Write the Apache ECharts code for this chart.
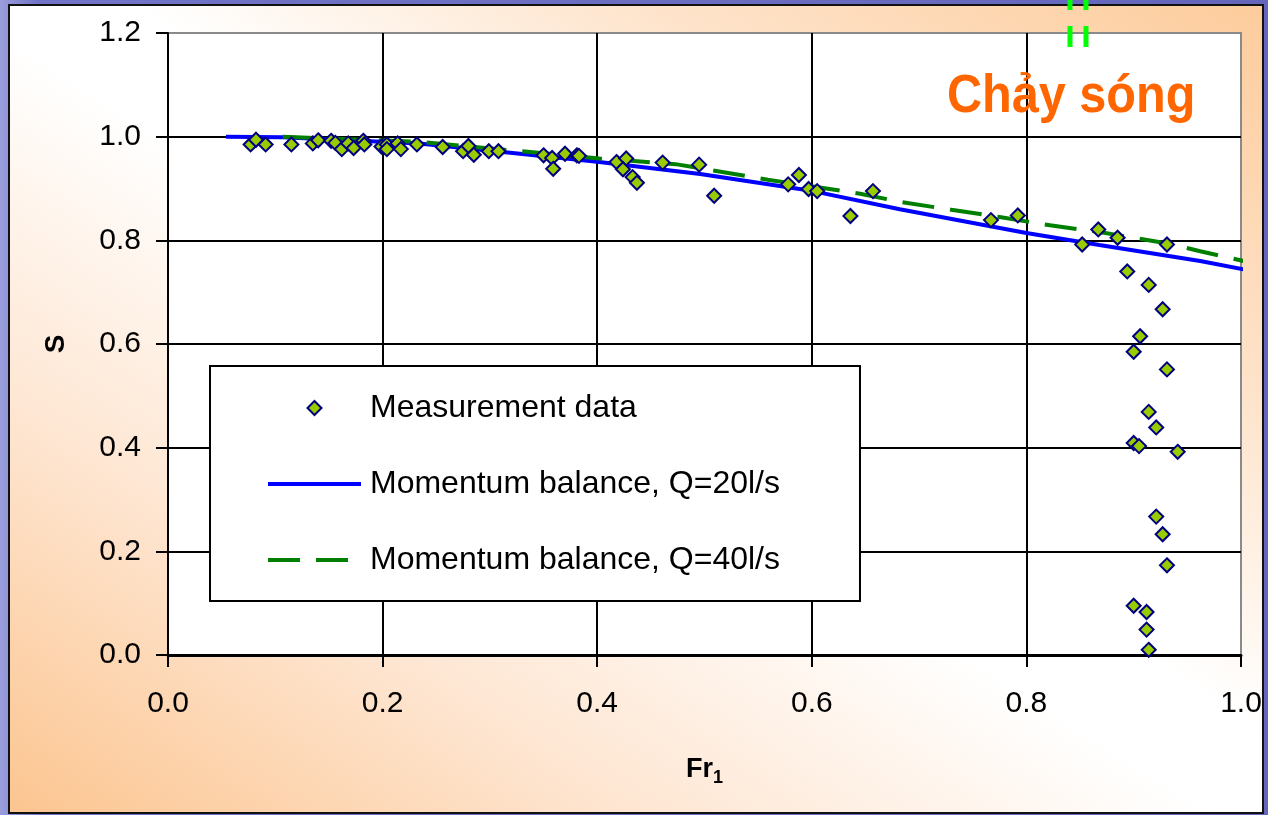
<!DOCTYPE html>
<html>
<head>
<meta charset="utf-8">
<script src="https://cdn.jsdelivr.net/npm/echarts@6/dist/echarts.min.js"></script>
<style>
html,body{margin:0;padding:0;width:1268px;height:815px;overflow:hidden;}
#bg{position:absolute;left:0;top:0;width:1268px;height:815px;background:linear-gradient(90deg,#9a9edc 0%,#7174c6 3%,#6466bb 100%);}
#frame{position:absolute;left:8px;top:4px;width:1256px;height:810px;box-sizing:border-box;border:2px solid #111;
  background:linear-gradient(to top right,#fcc590 0%,#fee6d2 25%,#ffffff 48%,#ffffff 55%,#fee4cc 75%,#fdcc9c 100%);}
#chart{position:absolute;left:0;top:0;width:1268px;height:815px;}
</style>
</head>
<body>
<div id="bg"></div>
<div id="frame"></div>
<div id="chart"></div>
<script>
// Measurement data (Fr1, S)
const measX = [
  0.077,0.082,0.091,0.115,0.135,0.140,0.152,0.156,0.162,0.168,
  0.173,0.182,0.183,0.199,0.204,0.204,0.214,0.217,0.232,0.256,
  0.275,0.280,0.285,0.299,0.308,0.350,0.358,0.359,0.370,0.381,
  0.383,0.418,0.427,0.424,0.433,0.437,0.461,0.495,0.509,0.578,
  0.588,0.597,0.605,0.636,0.657,0.767,0.792,0.852,0.867,0.885,
  0.931,0.894,0.914,0.927,0.906,0.900,0.931,0.914,0.921,0.900,
  0.905,0.941,0.921,0.927,0.931,0.900,0.912,0.912,0.914
];
const measY = [
  0.985,0.994,0.985,0.985,0.987,0.993,0.992,0.988,0.976,0.987,
  0.978,0.992,0.985,0.981,0.985,0.976,0.987,0.976,0.985,0.980,
  0.972,0.982,0.965,0.972,0.972,0.964,0.959,0.938,0.967,0.964,
  0.963,0.951,0.958,0.937,0.922,0.911,0.950,0.946,0.886,0.908,
  0.926,0.899,0.895,0.847,0.895,0.839,0.848,0.792,0.821,0.805,
  0.792,0.740,0.714,0.667,0.615,0.585,0.551,0.469,0.439,0.409,
  0.403,0.392,0.267,0.233,0.173,0.095,0.083,0.049,0.010
];
// Momentum balance, Q=20l/s
const fr20 = [0.054,0.107,0.234,0.328,0.402,0.496,0.601,0.682,0.800,0.868,0.962,1.007];
const s20  = [1.000,0.999,0.987,0.967,0.951,0.928,0.895,0.860,0.814,0.791,0.760,0.742];
// Momentum balance, Q=40l/s
const fr40 = [0.107,0.234,0.402,0.473,0.559,0.645,0.683,0.730,0.775,0.822,0.868,0.929,0.962,1.007];
const s40  = [1.000,0.990,0.958,0.947,0.917,0.890,0.874,0.859,0.845,0.829,0.816,0.795,0.779,0.758];

const seriesNames = ['Measurement data','Momentum balance, Q=20l/s','Momentum balance, Q=40l/s'];
const annotationText = 'Chảy sóng';

const zip = (a,b) => a.map((v,i) => [v,b[i]]);
const FONT = '"Liberation Sans", Arial, sans-serif';
const ICON_DIAMOND = 'path://M7,0L14,7L7,14L0,7Z';
const ICON_SOLID = 'path://M0,0H93V4H0Z';
const ICON_DASHED = 'path://M0,0H32V4H0Z M48,0H80V4H48Z M80,0H93V0H80Z';

const chart = echarts.init(document.getElementById('chart'), null, {renderer:'canvas'});
chart.setOption({
  animation: false,
  textStyle: {fontFamily: FONT},
  grid: {left:168, top:33, width:1073, height:622, show:true, backgroundColor:'#ffffff', borderColor:'#8a8a8a', borderWidth:2},
  xAxis: {
    type:'value', min:0, max:1, interval:0.2,
    name:'{a|Fr}{b|1}', nameLocation:'middle', nameGap:98,
    nameTextStyle:{rich:{a:{fontSize:27,fontWeight:'bold',color:'#000',fontFamily:FONT},b:{fontSize:18,fontWeight:'bold',color:'#000',fontFamily:FONT,padding:[16,0,0,0]}}},
    axisLine:{show:true,onZero:false,lineStyle:{color:'#000',width:3}},
    axisTick:{show:true,length:12,lineStyle:{color:'#000',width:2}},
    axisLabel:{fontSize:30,color:'#000',margin:34,formatter:v=>v.toFixed(1)},
    splitLine:{show:true,showMinLine:false,showMaxLine:false,lineStyle:{color:'#000',width:2}}
  },
  yAxis: {
    type:'value', min:0, max:1.2, interval:0.2,
    name:'S', nameLocation:'middle', nameGap:98,
    nameTextStyle:{fontSize:28,fontWeight:'bold',color:'#000'},
    axisLine:{show:true,onZero:false,lineStyle:{color:'#000',width:2}},
    axisTick:{show:true,length:12,lineStyle:{color:'#000',width:2}},
    axisLabel:{fontSize:30,color:'#000',margin:27,formatter:v=>v.toFixed(1)},
    splitLine:{show:true,showMinLine:false,showMaxLine:false,lineStyle:{color:'#000',width:2}}
  },
  legend: {
    data: [
      {name:seriesNames[0], icon:ICON_DIAMOND},
      {name:seriesNames[1], icon:ICON_SOLID, itemStyle:{color:'#0000ff',borderWidth:0}},
      {name:seriesNames[2], icon:ICON_DASHED, itemStyle:{color:'#008000',borderWidth:0}}
    ],
    orient:'vertical', left:210, top:366,
    itemWidth:93, itemHeight:14, itemGap:44,
    symbolKeepAspect:true,
    padding:[26,80,25,58],
    backgroundColor:'#ffffff', borderColor:'#000', borderWidth:2,
    selectedMode:false,
    textStyle:{fontSize:32,color:'#000',lineHeight:30,padding:[0,0,0,4],fontFamily:FONT}
  },
  series: [
    {type:'line', name:seriesNames[1], data:zip(fr20,s20), symbol:'none', clip:false,
     lineStyle:{color:'#0000ff',width:4}, itemStyle:{color:'#0000ff'}, z:2},
    {type:'line', name:seriesNames[2], data:zip(fr40,s40), symbol:'none', clip:false,
     lineStyle:{color:'#008000',width:4,type:[32,16]}, itemStyle:{color:'#008000'}, z:3},
    {type:'scatter', name:seriesNames[0], data:zip(measX,measY), symbol:'diamond', symbolSize:14,
     itemStyle:{color:'#99cc00',borderColor:'#000080',borderWidth:2,opacity:1}, z:4}
  ],
  graphic: [
    {type:'text', x:947, y:97, scaleX:0.9, z:100,
     style:{text:annotationText, fill:'#ff6600', font:'bold 54px "Liberation Sans", Arial, sans-serif', textAlign:'left', textVerticalAlign:'middle', verticalAlign:'middle'}},
    {type:'line', z:100, shape:{x1:1070,y1:-11,x2:1070,y2:47}, style:{stroke:'#00ff00',lineWidth:5,lineDash:[21,16]}},
    {type:'line', z:100, shape:{x1:1086,y1:-11,x2:1086,y2:47}, style:{stroke:'#00ff00',lineWidth:5,lineDash:[21,16]}}
  ]
});
</script>
</body>
</html>
